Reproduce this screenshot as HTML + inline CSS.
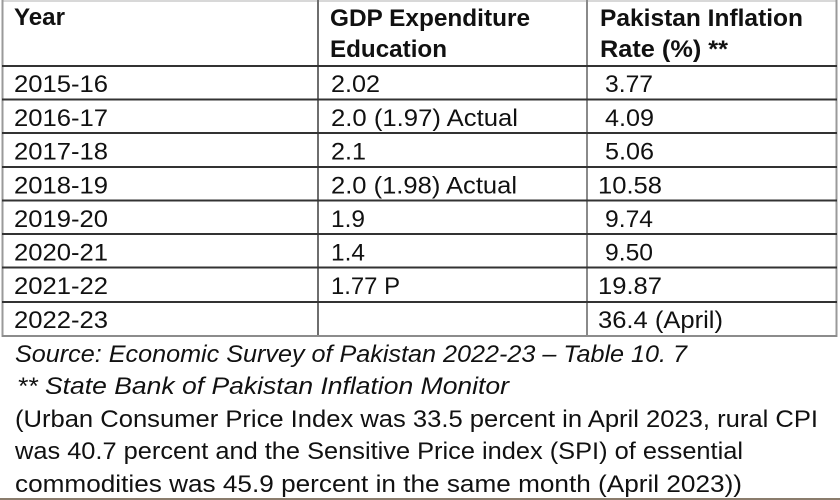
<!DOCTYPE html>
<html>
<head>
<meta charset="utf-8">
<style>
  html,body{margin:0;padding:0;background:#fff;}
  body{width:840px;height:500px;overflow:hidden;}
  svg{display:block;}
  text{font-family:"Liberation Sans",Arial,sans-serif;font-size:24px;fill:#111;}
  .b{font-weight:bold;}
  .i{font-style:italic;}
</style>
</head>
<body>
<svg width="840" height="500" viewBox="0 0 840 500" xmlns="http://www.w3.org/2000/svg">
  <rect x="0" y="0" width="840" height="500" fill="#ffffff"/>
  <!-- outer borders -->
  <line x1="2" y1="1" x2="837" y2="1" stroke="#d8d8d8" stroke-width="2"/>
  <line x1="2.5" y1="0" x2="2.5" y2="337" stroke="#9a9a9a" stroke-width="2"/>
  <line x1="836.5" y1="0" x2="836.5" y2="337" stroke="#9a9a9a" stroke-width="2"/>
  <!-- column separators -->
  <line x1="318" y1="0" x2="318" y2="337" stroke="#6e6e6e" stroke-width="2"/>
  <line x1="587" y1="0" x2="587" y2="337" stroke="#8a8a8a" stroke-width="2"/>
  <!-- horizontal lines -->
  <g stroke="#333" stroke-width="2">
    <line x1="2" y1="66" x2="837" y2="66"/>
    <line x1="2" y1="99.5" x2="837" y2="99.5"/>
    <line x1="2" y1="133" x2="837" y2="133"/>
    <line x1="2" y1="167" x2="837" y2="167"/>
    <line x1="2" y1="200.5" x2="837" y2="200.5"/>
    <line x1="2" y1="234" x2="837" y2="234"/>
    <line x1="2" y1="267.5" x2="837" y2="267.5"/>
    <line x1="2" y1="302" x2="837" y2="302"/>
  </g>
  <line x1="2" y1="336" x2="837" y2="336" stroke="#8c8c8c" stroke-width="2"/>
  <!-- bottom strip -->
  <line x1="0" y1="499" x2="840" y2="499" stroke="#8a7c6c" stroke-width="2"/>

  <!-- header -->
  <text class="b" x="14" y="25" textLength="51" lengthAdjust="spacingAndGlyphs">Year</text>
  <text class="b" x="330" y="26" textLength="200" lengthAdjust="spacingAndGlyphs">GDP Expenditure</text>
  <text class="b" x="330" y="57" textLength="117" lengthAdjust="spacingAndGlyphs">Education</text>
  <text class="b" x="600" y="26" textLength="203" lengthAdjust="spacingAndGlyphs">Pakistan Inflation</text>
  <text class="b" x="600" y="57" textLength="128" lengthAdjust="spacingAndGlyphs">Rate (%) **</text>

  <!-- column 1 -->
  <text x="14" y="92" textLength="94" lengthAdjust="spacingAndGlyphs">2015-16</text>
  <text x="14" y="126" textLength="94" lengthAdjust="spacingAndGlyphs">2016-17</text>
  <text x="14" y="159.5" textLength="94" lengthAdjust="spacingAndGlyphs">2017-18</text>
  <text x="14" y="193.5" textLength="94" lengthAdjust="spacingAndGlyphs">2018-19</text>
  <text x="14" y="227" textLength="94" lengthAdjust="spacingAndGlyphs">2019-20</text>
  <text x="14" y="260.5" textLength="94" lengthAdjust="spacingAndGlyphs">2020-21</text>
  <text x="14" y="294" textLength="94" lengthAdjust="spacingAndGlyphs">2021-22</text>
  <text x="14" y="328" textLength="94" lengthAdjust="spacingAndGlyphs">2022-23</text>

  <!-- column 2 -->
  <text x="331" y="92" textLength="49" lengthAdjust="spacingAndGlyphs">2.02</text>
  <text x="331" y="126" textLength="187" lengthAdjust="spacingAndGlyphs">2.0 (1.97) Actual</text>
  <text x="331" y="159.5" textLength="35" lengthAdjust="spacingAndGlyphs">2.1</text>
  <text x="331" y="193.5" textLength="186" lengthAdjust="spacingAndGlyphs">2.0 (1.98) Actual</text>
  <text x="331" y="227" textLength="34" lengthAdjust="spacingAndGlyphs">1.9</text>
  <text x="331" y="260.5" textLength="34" lengthAdjust="spacingAndGlyphs">1.4</text>
  <text x="331" y="294" textLength="69" lengthAdjust="spacingAndGlyphs">1.77 P</text>

  <!-- column 3 -->
  <text x="605" y="92" textLength="48" lengthAdjust="spacingAndGlyphs">3.77</text>
  <text x="605" y="126" textLength="49" lengthAdjust="spacingAndGlyphs">4.09</text>
  <text x="605" y="159.5" textLength="49" lengthAdjust="spacingAndGlyphs">5.06</text>
  <text x="598" y="193.5" textLength="64" lengthAdjust="spacingAndGlyphs">10.58</text>
  <text x="605" y="227" textLength="48" lengthAdjust="spacingAndGlyphs">9.74</text>
  <text x="605" y="260.5" textLength="48" lengthAdjust="spacingAndGlyphs">9.50</text>
  <text x="598" y="294" textLength="64" lengthAdjust="spacingAndGlyphs">19.87</text>
  <text x="598" y="328" textLength="125" lengthAdjust="spacingAndGlyphs">36.4 (April)</text>

  <!-- notes -->
  <text class="i" x="15" y="362" textLength="672" lengthAdjust="spacingAndGlyphs">Source: Economic Survey of Pakistan 2022-23 – Table 10. 7</text>
  <text class="i" x="17" y="394" textLength="492" lengthAdjust="spacingAndGlyphs">** State Bank of Pakistan Inflation Monitor</text>
  <text x="15" y="427" textLength="803" lengthAdjust="spacingAndGlyphs">(Urban Consumer Price Index was 33.5 percent in April 2023, rural CPI</text>
  <text x="15" y="459" textLength="728" lengthAdjust="spacingAndGlyphs">was 40.7 percent and the Sensitive Price index (SPI) of essential</text>
  <text x="15" y="492" textLength="727" lengthAdjust="spacingAndGlyphs">commodities was 45.9 percent in the same month (April 2023))</text>
</svg>
</body>
</html>
